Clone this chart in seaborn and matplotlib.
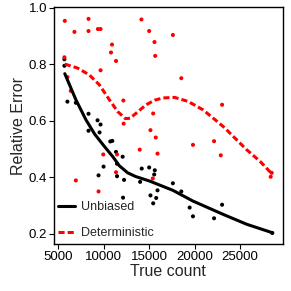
import numpy as np
import pandas as pd
import matplotlib
matplotlib.use("Agg")
import matplotlib.pyplot as plt
import seaborn as sns

# ---- data ----
unb_x = [5664, 5664, 5996, 6925, 8319, 9314, 9646, 8319, 9535, 10719, 10940, 11350,
         12080, 9978, 9425, 11460, 11460, 12235, 12124, 14181, 14004, 15000, 15620,
         15553, 15144, 15442, 15774, 15918, 17611, 18540, 19458, 19823, 22146, 23031, 28562]
unb_y = [0.817, 0.794, 0.667, 0.663, 0.624, 0.601, 0.586, 0.564, 0.558, 0.526, 0.528, 0.489,
         0.472, 0.437, 0.406, 0.447, 0.403, 0.390, 0.327, 0.430, 0.383, 0.434, 0.424,
         0.409, 0.335, 0.307, 0.326, 0.353, 0.378, 0.349, 0.292, 0.261, 0.254, 0.302, 0.202]

det_x = [5708, 5664, 6770, 8319, 8319, 9358, 9646, 10907, 10796, 11350, 9646, 5996, 6371,
         12157, 12190, 14148, 15000, 15586, 15664, 17611, 18540, 15442, 23031, 15144,
         9945, 11460, 11350, 6925, 9425, 13960, 15730, 15918, 15398, 19823, 22146, 22887,
         28495, 28385]
det_y = [0.953, 0.824, 0.914, 0.960, 0.917, 0.924, 0.924, 0.869, 0.841, 0.811, 0.778, 0.754, 0.705,
         0.671, 0.589, 0.958, 0.917, 0.878, 0.829, 0.903, 0.750, 0.625, 0.656, 0.566,
         0.480, 0.480, 0.417, 0.388, 0.349, 0.497, 0.540, 0.483, 0.395, 0.514, 0.527, 0.477,
         0.415, 0.401]

# smoothed trend curves
unb_cx = [5708, 6925, 8031, 9000, 10055, 11000, 11715, 12633, 13500, 15033, 17611, 19823,
          23142, 25730, 28562]
unb_cy = [0.766, 0.674, 0.603, 0.552, 0.509, 0.472, 0.440, 0.415, 0.402, 0.386, 0.353, 0.315,
          0.268, 0.233, 0.203]

det_cx = [5708, 7100, 8396, 9502, 10608, 11527, 12378, 12900, 13374, 14668, 15600, 16504,
          17799, 19270, 20929, 22035, 23330, 23883, 25730, 27201, 28562]
det_cy = [0.800, 0.786, 0.762, 0.727, 0.674, 0.632, 0.607, 0.608, 0.621, 0.656, 0.672, 0.680,
          0.682, 0.668, 0.638, 0.609, 0.574, 0.556, 0.497, 0.456, 0.410]

methods = ["Unbiased", "Deterministic"]
x_ticks = [5000, 10000, 15000, 20000, 25000]
y_ticks = [0.2, 0.4, 0.6, 0.8, 1.0]

pts = pd.concat([
    pd.DataFrame({"count": unb_x, "err": unb_y, "method": methods[0]}),
    pd.DataFrame({"count": det_x, "err": det_y, "method": methods[1]}),
])
curves = pd.concat([
    pd.DataFrame({"count": unb_cx, "err": unb_cy, "method": methods[0]}),
    pd.DataFrame({"count": det_cx, "err": det_cy, "method": methods[1]}),
])

sns.set_style("white")
plt.rcParams["font.family"] = ["Liberation Sans", "DejaVu Sans"]

palette = {"Unbiased": "black", "Deterministic": "#ff0000"}

fig = plt.figure(figsize=(2.91, 2.91), dpi=100)
ax = fig.add_axes([54 / 291, 1 - 244 / 291, (282.7 - 54) / 291, (244 - 7.3) / 291])

sns.scatterplot(data=pts, x="count", y="err", hue="method", palette=palette,
                s=8.5, linewidth=0, legend=False, ax=ax, zorder=3)
sns.lineplot(data=curves, x="count", y="err", hue="method", style="method",
             palette=palette, dashes={"Unbiased": "", "Deterministic": (2.0, 1.0)},
             linewidth=2.2, sort=False, estimator=None, ax=ax, zorder=4)

ax.set_xlim(4519, 29707)
ax.set_ylim(0.163, 1.001)
ax.set_xticks(x_ticks)
ax.set_xticklabels([str(v) for v in x_ticks])
ax.set_yticks(y_ticks)
ax.set_yticklabels([f"{v:.1f}" for v in y_ticks])
ax.tick_params(axis="both", which="major", direction="out", length=3.5, width=0.8,
               labelsize=9.5, colors="black", pad=1.5, bottom=True, left=True)
ax.set_xlabel("True count", fontsize=11.5, labelpad=1)
ax.set_ylabel("Relative Error", fontsize=11.5, labelpad=2)
for sp in ax.spines.values():
    sp.set_visible(True)
    sp.set_color("black")
    sp.set_linewidth(1.0)

handles, labels = ax.get_legend_handles_labels()
keep = [(h, l) for h, l in zip(handles, labels) if l in methods]
leg = ax.legend([h for h, _ in keep], [l for _, l in keep], loc="lower left",
                bbox_to_anchor=(-0.005, 0.0), frameon=False, fontsize=9,
                handlelength=1.4, handletextpad=0.5, labelspacing=1.15,
                borderpad=0.38, borderaxespad=0)

fig.savefig("out.png", dpi=100)
